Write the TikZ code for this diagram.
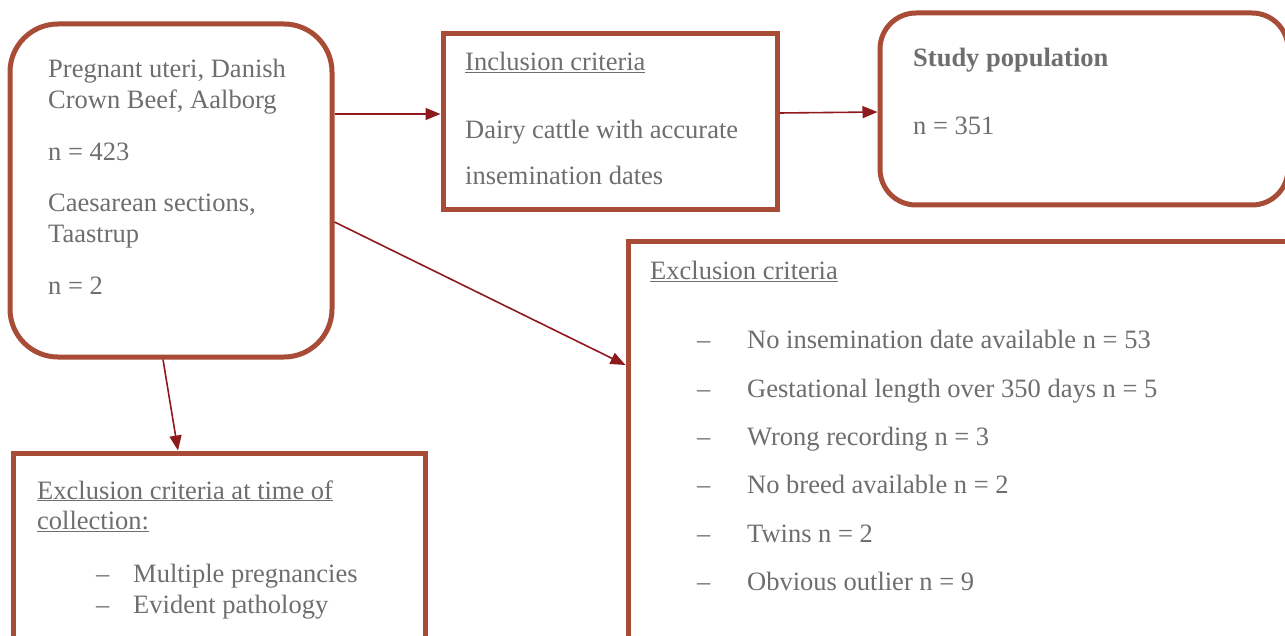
\documentclass[tikz,border=0pt]{standalone}
\usepackage{fontspec}
\setmainfont{Liberation Serif}
\usepackage{tikz}
\usetikzlibrary{arrows.meta}

\definecolor{boxline}{HTML}{A84C37}
\definecolor{arrowred}{HTML}{8E1A1E}
\definecolor{txtgray}{HTML}{6E6E6E}

\tikzset{
  box/.style={draw=boxline, line width=5pt, fill=white, inner sep=0pt},
  roundbox/.style={box, rounded corners=#1},
  arr/.style={draw=arrowred, line width=1.6pt, -{Triangle[length=15pt,width=12pt]}},
  txt/.style={anchor=base west, inner sep=0pt, text=txtgray,
    font=\fontsize{26.5}{31}\selectfont},
}

\begin{document}
\begin{tikzpicture}[x=1pt,y=-1pt]
\useasboundingbox (0,0) rectangle (1285,636);
\clip (0,0) rectangle (1285,636);

% Boxes
\node[roundbox=48pt, minimum width=322pt, minimum height=333pt] (upi) at (171,190.5) {};
\node[box, minimum width=334pt, minimum height=176pt] (incl) at (610,122) {};
\node[roundbox=36pt, minimum width=408pt, minimum height=192pt] (study) at (1084,109) {};
\node[box, minimum width=772pt, minimum height=558pt] (excl) at (1014,521) {};
\node[box, minimum width=412pt, minimum height=347pt] (coll) at (219,626.5) {};

% Source box text
\node[txt] (upi1) at (48,78) {Pregnant uteri, Danish};
\node[txt] (upi2) at (48,109) {Crown Beef, Aalborg};
\node[txt] (upi3) at (48,161) {n = 423};
\node[txt] (upi4) at (48,212) {Caesarean sections,};
\node[txt] (upi5) at (48,243) {Taastrup};
\node[txt] (upi6) at (48,295) {n = 2};

% Inclusion text
\node[txt] (incl1) at (465,71) {\underline{Inclusion criteria}};
\node[txt] (incl2) at (465,139) {Dairy cattle with accurate};
\node[txt] (incl3) at (465,185) {insemination dates};

% Study population text
\node[txt] (study1) at (913,67) {\textbf{Study population}};
\node[txt] (study2) at (913,135) {n = 351};

% Exclusion text
\node[txt] (excl0) at (650,280) {\underline{Exclusion criteria}};
\foreach \i/\t in {1/No insemination date available n = 53,
                   2/Gestational length over 350 days n = 5,
                   3/Wrong recording n = 3,
                   4/No breed available n = 2,
                   5/Twins n = 2,
                   6/Obvious outlier n = 9}{
  \node[txt] (dash\i) at (697,{300.5+48.3*\i}) {–};
  \node[txt] (excl\i) at (747,{300.5+48.3*\i}) {\t};
}

% Collection text
\node[txt] (coll1) at (37,499) {\underline{Exclusion criteria at time of}};
\node[txt] (coll2) at (37,529) {\underline{collection:}};
\node[txt] (cdash1) at (96,582) {–};
\node[txt] (coll3) at (133,582) {Multiple pregnancies};
\node[txt] (cdash2) at (96,613) {–};
\node[txt] (coll4) at (133,613) {Evident pathology};

% Arrows
\coordinate (inA) at ([yshift=8pt]incl.west);
\draw[arr] (upi.east |- inA) -- (inA);
\draw[arr] ([yshift=9pt]incl.east) -- ([yshift=-3pt]study.west);
\draw[arr] ([yshift=-31.5pt]upi.east) -- ([yshift=156pt]excl.west);
\draw[arr] ([xshift=-8pt]upi.south) -- ([xshift=-41pt]coll.north);
\end{tikzpicture}
\end{document}
